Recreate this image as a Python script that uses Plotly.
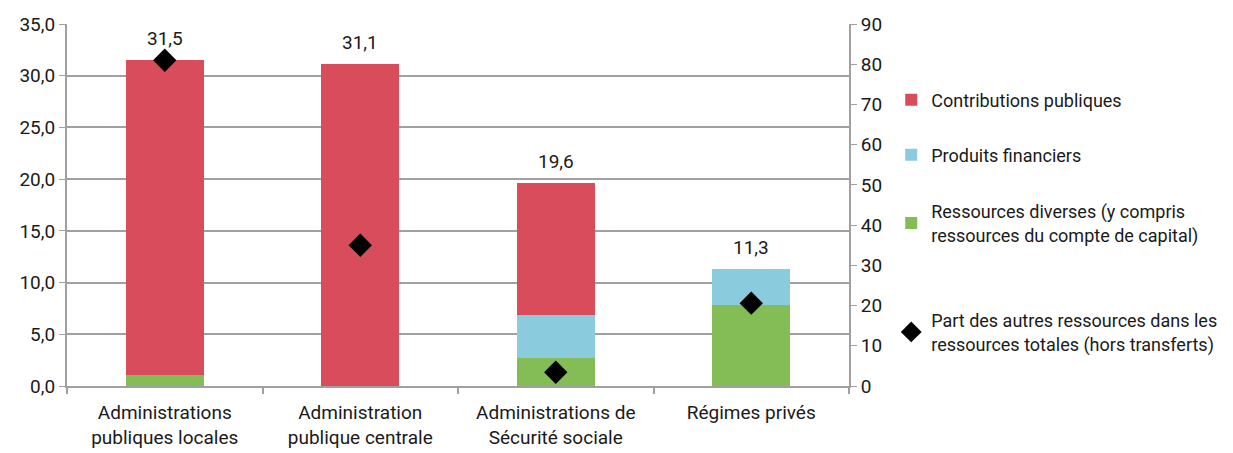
import plotly.graph_objects as go

categories = [
    "Administrations<br>publiques locales",
    "Administration<br>publique centrale",
    "Administrations de<br>Sécurité sociale",
    "Régimes privés",
]
ressources_diverses = [1.1, 0.0, 2.7, 7.8]
produits_financiers = [0.0, 0.0, 4.2, 3.5]
contributions_publiques = [30.4, 31.1, 12.7, 0.0]
part_autres = [81.0, 35.0, 3.4, 20.6]
totals = [31.5, 31.1, 19.6, 11.3]

COLOURS = {
    'red': '#D94C5B',
    'blue': '#8ACCDD',
    'green': '#84BC55',
    'grid': '#A0A0A0',
    'text': '#1A1A1A',
}
FONT = "Roboto, sans-serif"
FS = 19

fig = go.Figure()

fig.add_trace(go.Bar(
    x=categories, y=ressources_diverses,
    name="Ressources diverses (y compris<br>ressources du compte de capital)",
    marker=dict(color=COLOURS['green'], line=dict(width=0)),
    width=0.4, legend='legend4',
))
fig.add_trace(go.Bar(
    x=categories, y=produits_financiers,
    name="Produits financiers",
    marker=dict(color=COLOURS['blue'], line=dict(width=0)),
    width=0.4, legend='legend3',
))
fig.add_trace(go.Bar(
    x=categories, y=contributions_publiques,
    name="Contributions publiques",
    marker=dict(color=COLOURS['red'], line=dict(width=0)),
    width=0.4, legend='legend2',
))
fig.add_trace(go.Scatter(
    x=categories, y=part_autres,
    mode='markers',
    name="Part des autres ressources dans les<br>ressources totales (hors transferts)",
    marker=dict(symbol='diamond', size=18, color='black'),
    yaxis='y2', legend='legend5',
))

# total labels above the bars
for cat, tot in zip(categories, totals):
    fig.add_annotation(
        x=cat, y=tot, yref='y',
        text=f"{tot:.1f}".replace('.', ','),
        showarrow=False, yanchor='bottom', yshift=8,
        font=dict(size=FS, color=COLOURS['text']),
    )

legend_style = dict(
    xanchor='left', yanchor='middle', x=1.054,
    font=dict(size=18), itemwidth=30, bgcolor='rgba(0,0,0,0)',
)

fig.update_layout(
    barmode='stack',
    width=1233, height=453,
    margin=dict(l=59, r=392, t=16, b=75, autoexpand=False),
    paper_bgcolor='white',
    plot_bgcolor='white',
    separators=', ',
    font=dict(family=FONT, size=FS, color=COLOURS['text']),
    legend2=dict(y=0.79, **legend_style),
    legend3=dict(y=0.638, **legend_style),
    legend4=dict(y=0.45, **legend_style),
    legend5=dict(y=0.149, **legend_style),
    xaxis=dict(
        showline=True, linecolor=COLOURS['grid'], linewidth=2,
        tickson='boundaries', ticks='outside', ticklen=6,
        tickcolor=COLOURS['grid'], tickwidth=2, tickangle=0,
        ticklabelstandoff=8,
    ),
    yaxis=dict(
        range=[0, 35], dtick=5, tickformat='.1f',
        showgrid=True, gridcolor=COLOURS['grid'], gridwidth=1.5,
        showline=True, linecolor=COLOURS['grid'], linewidth=2,
        ticks='outside', ticklen=6, tickcolor=COLOURS['grid'],
        zeroline=False,
    ),
    yaxis2=dict(
        overlaying='y', side='right',
        range=[0, 90], dtick=10,
        showgrid=False, showline=True, zeroline=False,
        linecolor=COLOURS['grid'], linewidth=2,
        ticks='outside', ticklen=6, tickcolor=COLOURS['grid'],
    ),
)

fig.write_html("out.html")
